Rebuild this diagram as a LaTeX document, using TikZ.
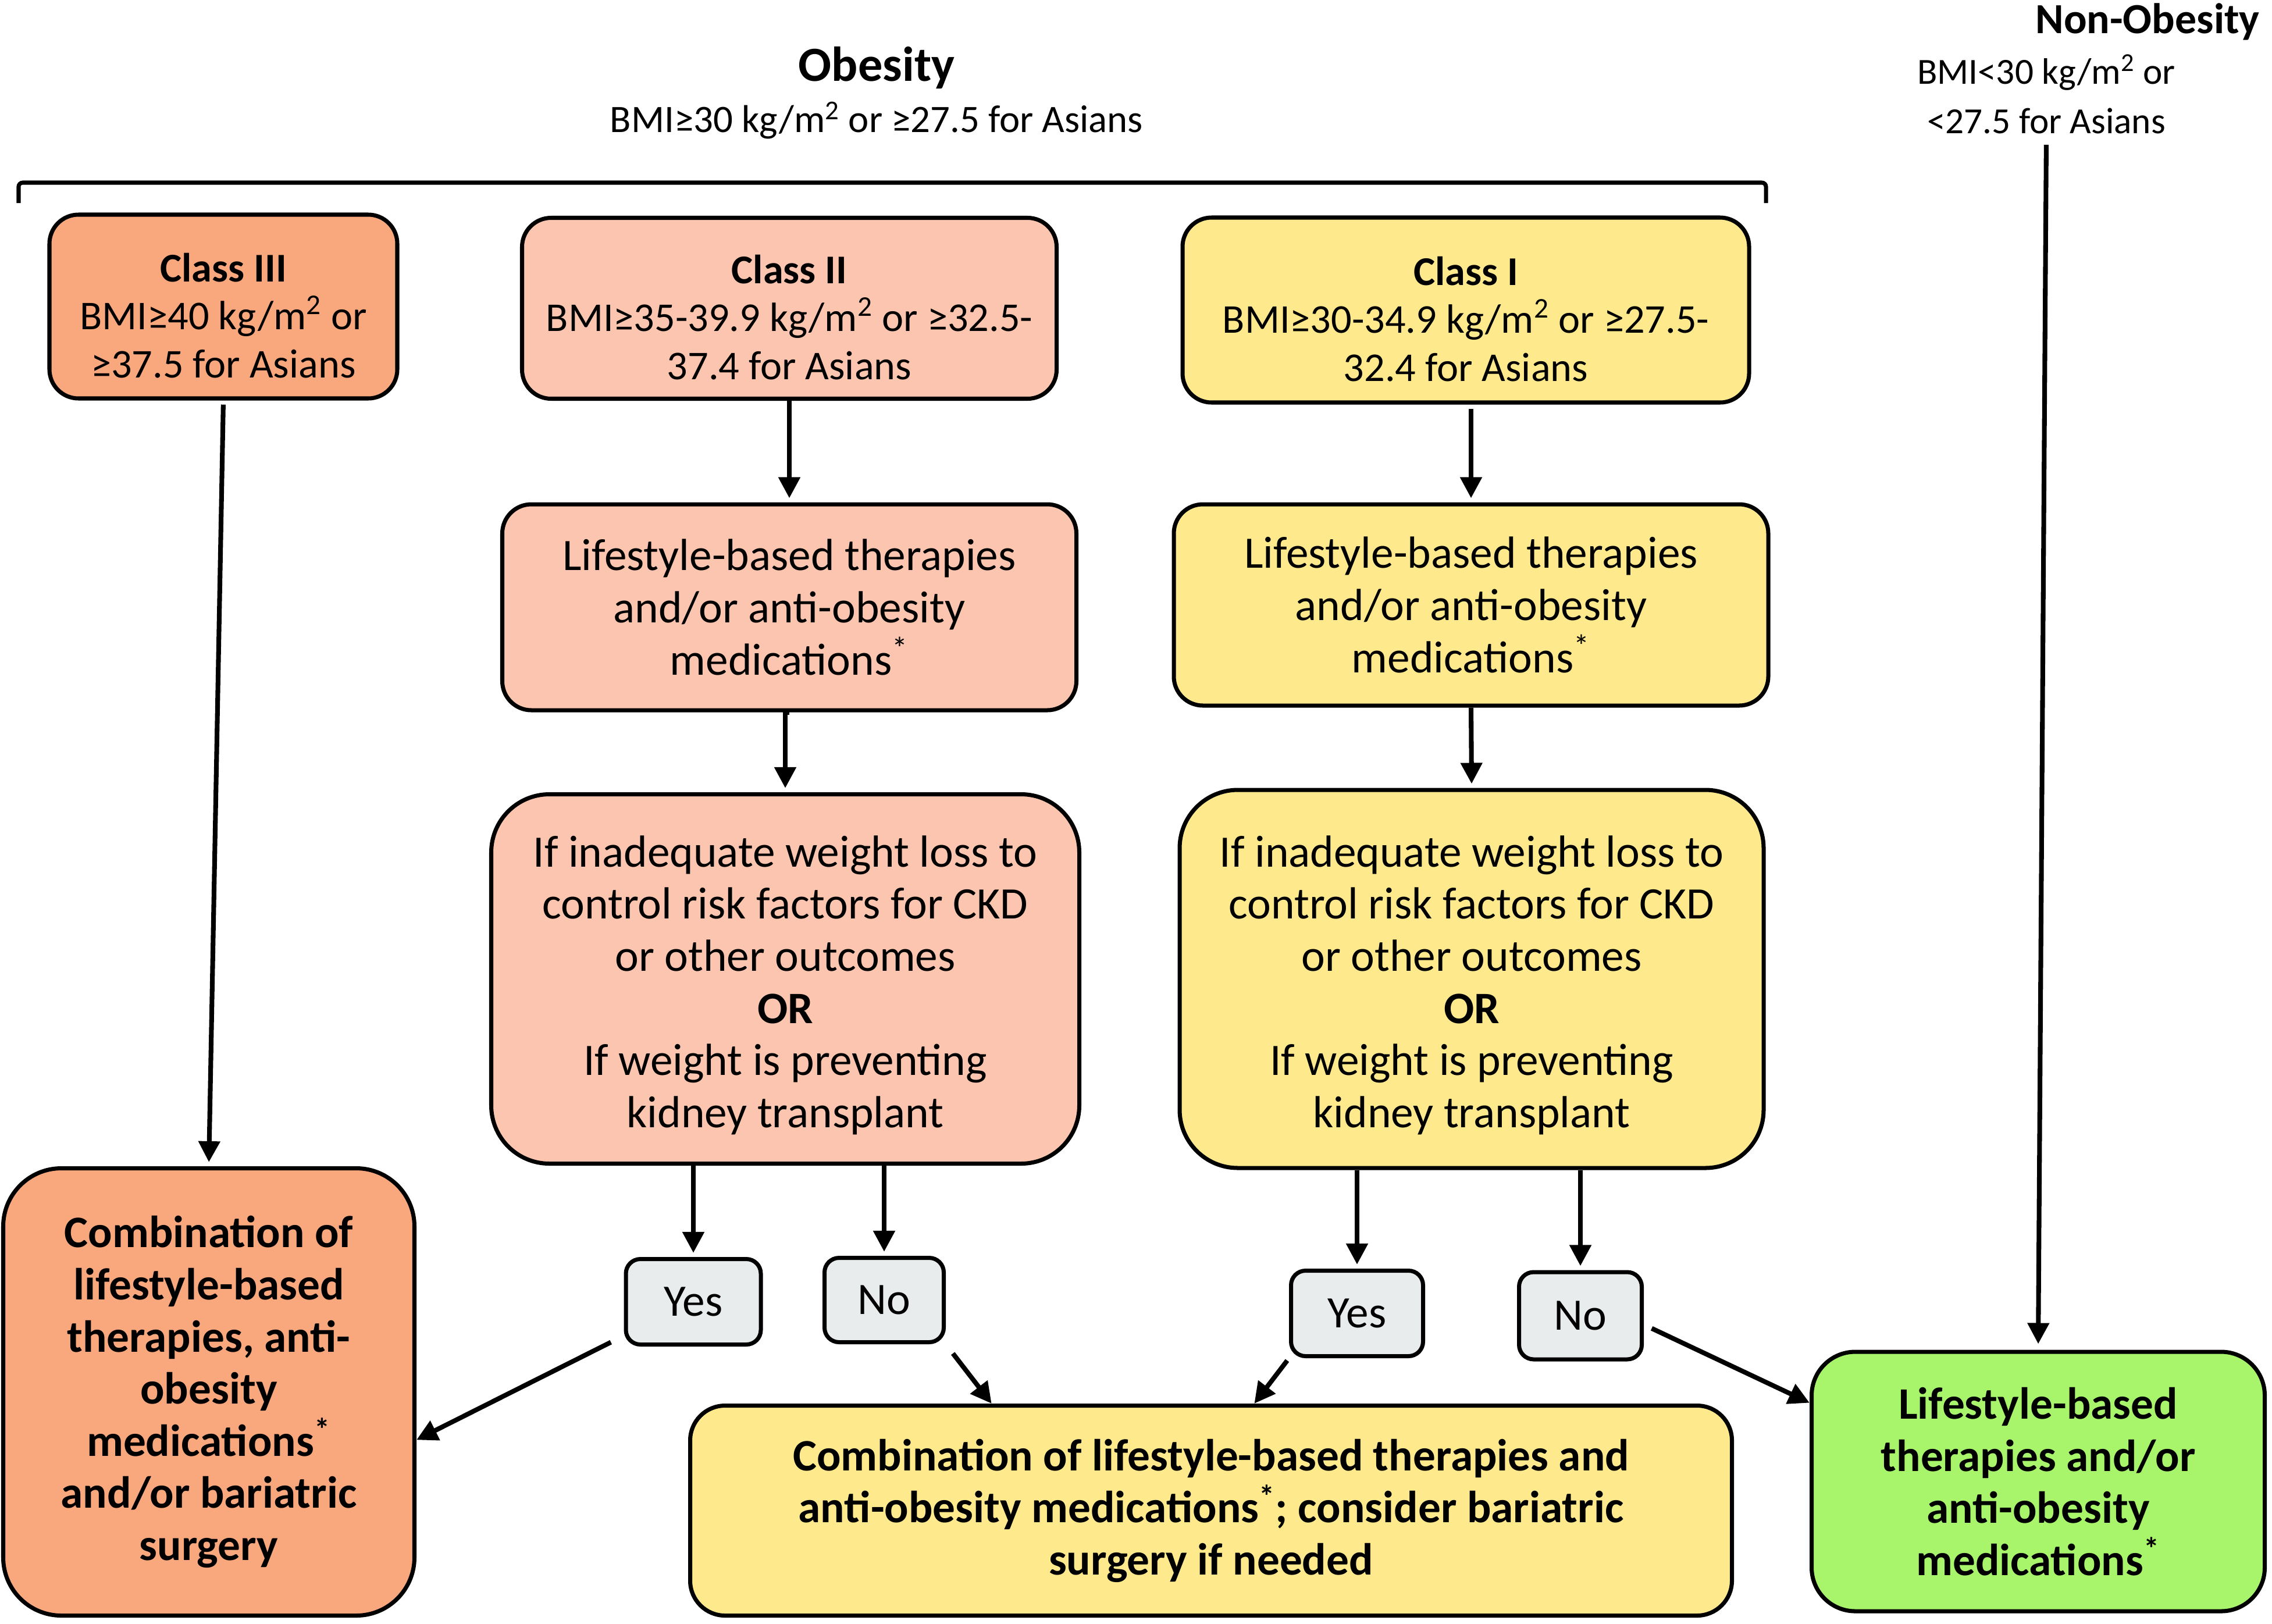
\documentclass[tikz,border=0pt]{standalone}
\usepackage{fontspec}
\setmainfont{Carlito}
\usepackage{tikz}
\usetikzlibrary{arrows.meta, positioning}
\usepackage{xcolor}
\definecolor{deeporange}{HTML}{F9A87E}
\definecolor{salmon}{HTML}{FBC5AF}
\definecolor{sand}{HTML}{FEE98C}
\definecolor{lime}{HTML}{A8F56C}
\definecolor{answergray}{HTML}{E8ECEC}

\begin{document}
\begin{tikzpicture}[->, >={Triangle[length=0.36cm, width=0.36cm]}, line width=2.3pt]
    \tikzstyle{box} = [draw, line width=2pt, text centered, align=center, font=\fontsize{22}{25.5}\selectfont]
    \tikzstyle{classbox} = [box, rounded corners=0.5cm, font=\fontsize{20}{23.5}\selectfont]
    \tikzstyle{answer} = [box, fill=answergray, rounded corners=0.25cm]
    \tikzstyle{label} = [inner sep=0pt, align=center]
    \useasboundingbox (0,0) rectangle (39.06,-27.91);
    % headings
    \node [label, font=\fontsize{24}{28}\selectfont\bfseries] at (15.07,-1.17) (15) {Obesity};
    \node [label, font=\fontsize{19}{24}\selectfont] at (15.07,-2.07) (16) {BMI≥30 kg/m\textsuperscript{2} or ≥27.5 for Asians};
    \node [label, font=\fontsize{21}{25}\selectfont\bfseries] at (36.92,-0.37) (17) {Non-Obesity};
    \node [label, font=\fontsize{18}{24}\selectfont] at (35.18,-1.62) (18) {BMI<30 kg/m\textsuperscript{2} or\\<27.5 for Asians};
    \draw [-, line width=2pt, rounded corners=2pt] (0.32,-3.49) -- (0.32,-3.14) -- (30.36,-3.14) -- (30.36,-3.49);
    % classes
    \node [classbox, fill=deeporange, minimum width=5.98cm, minimum height=3.16cm] at (3.84,-5.27) (1) {\rule{0pt}{0.8cm}\textbf{Class III}\\BMI≥40 kg/m\textsuperscript{2} or\\≥37.5 for Asians};
    \node [classbox, fill=salmon, minimum width=9.19cm, minimum height=3.11cm] at (13.57,-5.30) (2) {\rule{0pt}{0.8cm}\textbf{Class II}\\BMI≥35-39.9 kg/m\textsuperscript{2} or ≥32.5-\\37.4 for Asians};
    \node [classbox, fill=sand, minimum width=9.74cm, minimum height=3.18cm] at (25.2,-5.33) (3) {\rule{0pt}{0.8cm}\textbf{Class I}\\BMI≥30-34.9 kg/m\textsuperscript{2} or ≥27.5-\\32.4 for Asians};
    % therapies
    \node [box, fill=salmon, rounded corners=0.5cm, minimum width=9.87cm, minimum height=3.54cm] at (13.57,-10.44) (4) {Lifestyle-based therapies\\and/or anti-obesity\\medications\textsuperscript{*}};
    \node [box, fill=sand, rounded corners=0.5cm, minimum width=10.22cm, minimum height=3.46cm] at (25.29,-10.40) (5) {Lifestyle-based therapies\\and/or anti-obesity\\medications\textsuperscript{*}};
    \node [box, fill=salmon, rounded corners=1cm, minimum width=10.11cm, minimum height=6.35cm] at (13.5,-16.83) (6) {\rule{0pt}{0.75cm}If inadequate weight loss to\\control risk factors for CKD\\or other outcomes\\\textbf{OR}\\If weight is preventing\\kidney transplant};
    \node [box, fill=sand, rounded corners=1cm, minimum width=10.04cm, minimum height=6.5cm] at (25.30,-16.83) (7) {\rule{0pt}{0.75cm}If inadequate weight loss to\\control risk factors for CKD\\or other outcomes\\\textbf{OR}\\If weight is preventing\\kidney transplant};
    % answers
    \node [answer, minimum width=2.32cm, minimum height=1.47cm] at (11.92,-22.38) (8) {Yes};
    \node [answer, minimum width=2.05cm, minimum height=1.45cm] at (15.20,-22.35) (9) {No};
    \node [answer, minimum width=2.27cm, minimum height=1.47cm] at (23.33,-22.58) (10) {Yes};
    \node [answer, minimum width=2.11cm, minimum height=1.50cm] at (27.17,-22.62) (11) {No};
    % outcomes
    \node [box, fill=deeporange, rounded corners=1cm, minimum width=7.07cm, minimum height=7.69cm, font=\fontsize{22}{25.5}\selectfont\bfseries] at (3.59,-23.93) (12) {Combination of\\lifestyle-based\\therapies, anti-\\obesity\\medications\textsuperscript{*}\\and/or bariatric\\surgery};
    \node [box, fill=sand, rounded corners=0.6cm, minimum width=17.91cm, minimum height=3.61cm, font=\fontsize{22}{25.5}\selectfont\bfseries] at (20.82,-25.97) (13) {Combination of lifestyle-based therapies and\\anti-obesity medications\textsuperscript{*}; consider bariatric\\surgery if needed};
    \node [box, fill=lime, rounded corners=0.75cm, minimum width=7.79cm, minimum height=4.46cm, font=\fontsize{22}{25.5}\selectfont\bfseries] at (35.04,-25.47) (14) {Lifestyle-based\\therapies and/or\\anti-obesity\\medications\textsuperscript{*}};
    % connectors
    \draw [shorten <=2pt, shorten >=2pt] (1.south) -- (12.north);
    \draw [shorten >=2pt] (2.south) -- (4.north);
    \draw [shorten >=2pt] (4.south) -- (6.north |- 4.south) -- (6.north);
    \draw [shorten <=2pt, shorten >=2pt] (3.south -| 5.north) -- (5.north);
    \draw [shorten >=2pt] (5.south) -- (7.north);
    \draw [shorten >=2pt] (8.north |- 6.south) -- (8.north);
    \draw [shorten >=2pt] (9.north |- 6.south) -- (9.north);
    \draw [shorten >=2pt] (10.north |- 7.south) -- (10.north);
    \draw [shorten >=2pt] (11.north |- 7.south) -- (11.north);
    \draw [shorten <=0.25cm] (8.206) -- (12.-13);
    \draw [shorten <=0.2cm] (9.south east) -- (13.154);
    \draw [shorten <=0.05cm] (10.south west) -- (13.68);
    \draw [shorten <=0.15cm] (11.-8) -- (14.161);
    \draw [shorten <=0.15cm, shorten >=0.1cm] (18.south) -- (14.north);
\end{tikzpicture}
\end{document}
